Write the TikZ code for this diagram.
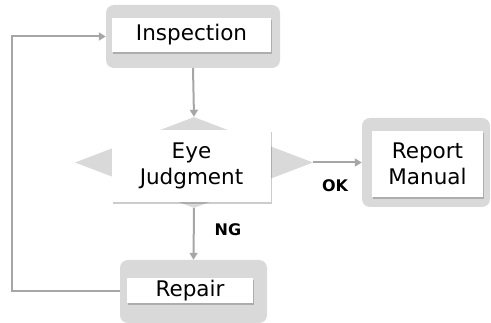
\documentclass[tikz,border=0pt]{standalone}
\usepackage{fontspec}
\setmainfont{DejaVu Sans}
\usetikzlibrary{shapes.geometric,arrows.meta,shadows}
\definecolor{bgrey}{HTML}{D9D9D9}
\definecolor{lgrey}{HTML}{A6A6A6}
\begin{document}
\begin{tikzpicture}[x=1pt,y=-1pt,
  backbox/.style={fill=bgrey,rounded corners=8pt,inner sep=0pt},
  whitebox/.style={fill=white,inner sep=0pt,align=center,font=\fontsize{21.5}{25.5}\selectfont,
    drop shadow={shadow xshift=0.8pt,shadow yshift=-1.8pt,fill=black,opacity=0.2}},
  conn/.style={draw=lgrey,line width=2pt,-{Triangle[length=7pt,width=8pt]}},
  lbl/.style={font=\fontsize{16}{18}\selectfont\bfseries}]
\useasboundingbox (0,0) rectangle (491,323);
% Inspection
\node[backbox,minimum width=174pt,minimum height=63pt] (inspbg) at (193,36.5) {};
\node[whitebox,minimum width=159pt,minimum height=34pt] (insp) at (191.5,35) {Inspection};
% Diamond
\node[diamond,fill=bgrey,inner sep=0pt,minimum width=238pt,minimum height=91pt] (dia) at (194,162.5) {};
\node[whitebox,minimum width=159pt,minimum height=72pt] (judge) at (191.5,166) {Eye\\Judgment};
% Report
\node[backbox,minimum width=128pt,minimum height=89pt] (repbg) at (426,162.5) {};
\node[whitebox,minimum width=111pt,minimum height=66pt] (rep) at (427.5,164) {Report\\Manual};
% Repair
\node[backbox,minimum width=147pt,minimum height=63pt] (repairbg) at (193.5,291.5) {};
\node[whitebox,minimum width=126pt,minimum height=25pt] (repair) at (190,290.5) {Repair};
% connectors
\draw[conn] (inspbg.south) -- (dia.north);
\draw[conn] (dia.east) -- (repbg.west);
\draw[conn] (dia.south) -- (repairbg.north);
\draw[conn] (repairbg.west) -- ++(-108,0) |- (inspbg.west);
% labels
\node[lbl] (ok) at (335,186) {OK};
\node[lbl] (ng) at (228,230) {NG};
\end{tikzpicture}
\end{document}
